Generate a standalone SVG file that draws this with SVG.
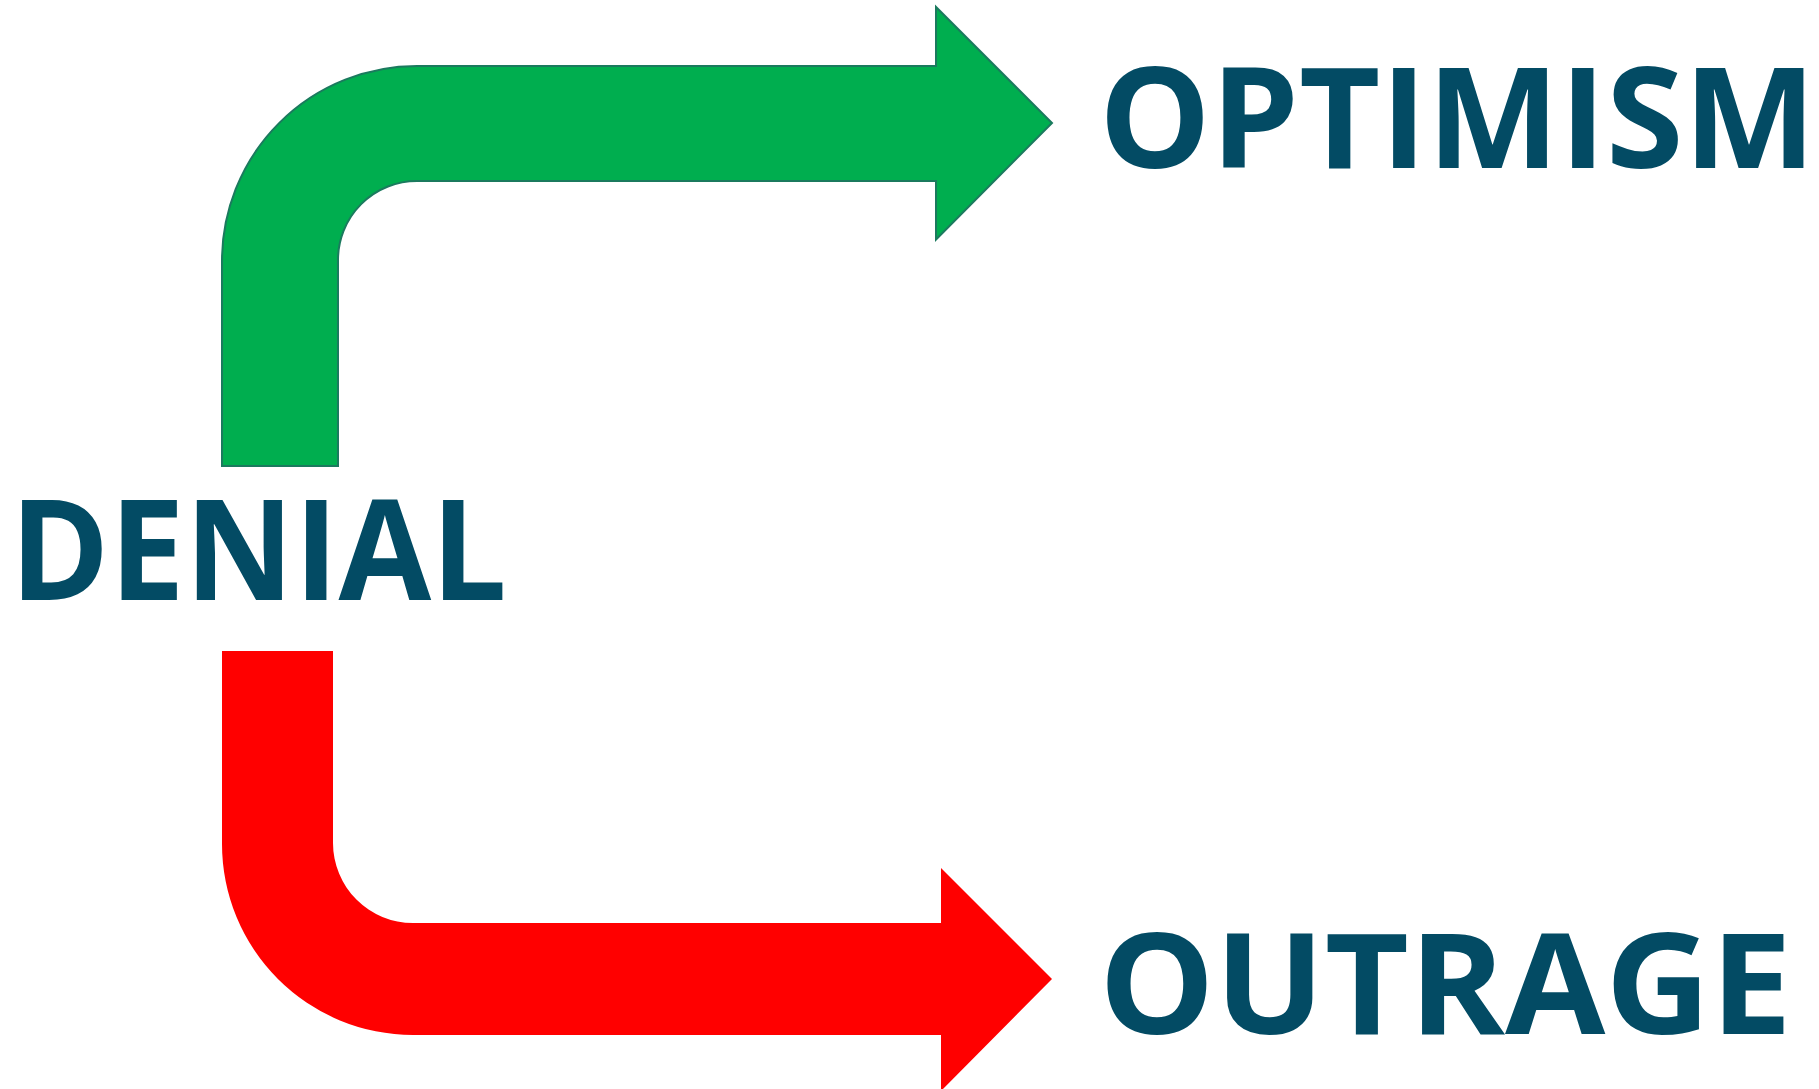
<svg xmlns="http://www.w3.org/2000/svg" width="1819" height="1089" viewBox="0 0 1819 1089">
  <style>
    .label { font-family: "Open Sans", "Liberation Sans", sans-serif; font-weight: 700; font-size: 140px; fill: #034B64; }
    .up { fill: #00AE4F; stroke: #1B7A5E; stroke-width: 2; }
    .down { fill: #FF0000; }
  </style>
  <rect width="1819" height="1089" fill="#FFFFFF"/>

  <!-- bent arrows -->
  <g id="connectors">
    <path id="arrow-optimism" class="up" d="M222,466 L222,261 A195,195 0 0 1 417,66 L936,66 L936,7 L1052,123 L936,239.5 L936,181 L417,181 A79,79 0 0 0 338,260 L338,466 Z"/>
    <path id="arrow-outrage" class="down" d="M222,651 L333,651 L333,843 A80,80 0 0 0 413,923 L941,923 L941,868 L1052,979 L941,1091 L941,1035 L413,1035 A191,191 0 0 1 222,844 Z"/>
  </g>

  <g id="denial">
    <text class="label" x="10" y="600" textLength="497" lengthAdjust="spacingAndGlyphs">DENIAL</text>
  </g>
  <g id="optimism">
    <text class="label" x="1099" y="168" textLength="717" lengthAdjust="spacingAndGlyphs">OPTIMISM</text>
  </g>
  <g id="outrage">
    <text class="label" x="1099" y="1034" textLength="693" lengthAdjust="spacingAndGlyphs">OUTRAGE</text>
  </g>
</svg>
